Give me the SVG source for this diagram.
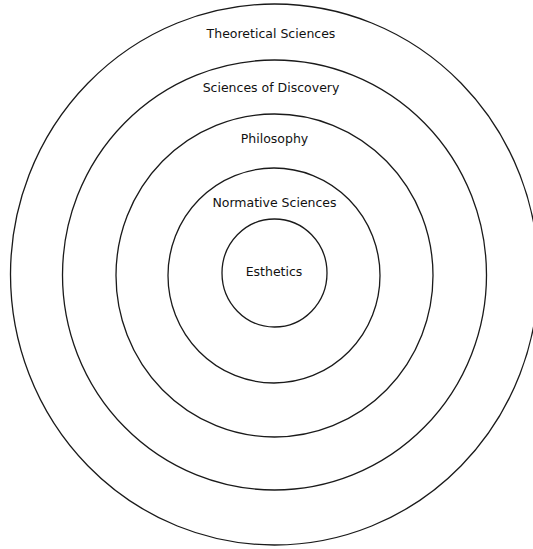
<svg xmlns="http://www.w3.org/2000/svg" width="533" height="549" viewBox="0 0 533 549">
  <style>
    .ring { fill: none; stroke: #1a1a1a; stroke-width: 1.3; }
    .label { font-family: "DejaVu Sans", Verdana, sans-serif; font-size: 12.5px; fill: #111111; text-anchor: middle; }
  </style>
  <rect width="533" height="549" fill="#ffffff"/>
  <g id="theoretical-sciences">
    <ellipse class="ring" cx="274.5" cy="274.5" rx="264" ry="270.5"/>
    <text class="label" x="271" y="38">Theoretical Sciences</text>
  </g>
  <g id="sciences-of-discovery">
    <ellipse class="ring" cx="274.5" cy="275" rx="212" ry="215"/>
    <text class="label" x="271" y="92">Sciences of Discovery</text>
  </g>
  <g id="philosophy">
    <ellipse class="ring" cx="274.5" cy="275.5" rx="158.5" ry="161.5"/>
    <text class="label" x="274.5" y="143">Philosophy</text>
  </g>
  <g id="normative-sciences">
    <ellipse class="ring" cx="274" cy="275.5" rx="106" ry="107.5"/>
    <text class="label" x="274.5" y="207">Normative Sciences</text>
  </g>
  <g id="esthetics">
    <ellipse class="ring" cx="274.5" cy="273" rx="52.5" ry="54"/>
    <text class="label" x="274" y="276">Esthetics</text>
  </g>
</svg>
